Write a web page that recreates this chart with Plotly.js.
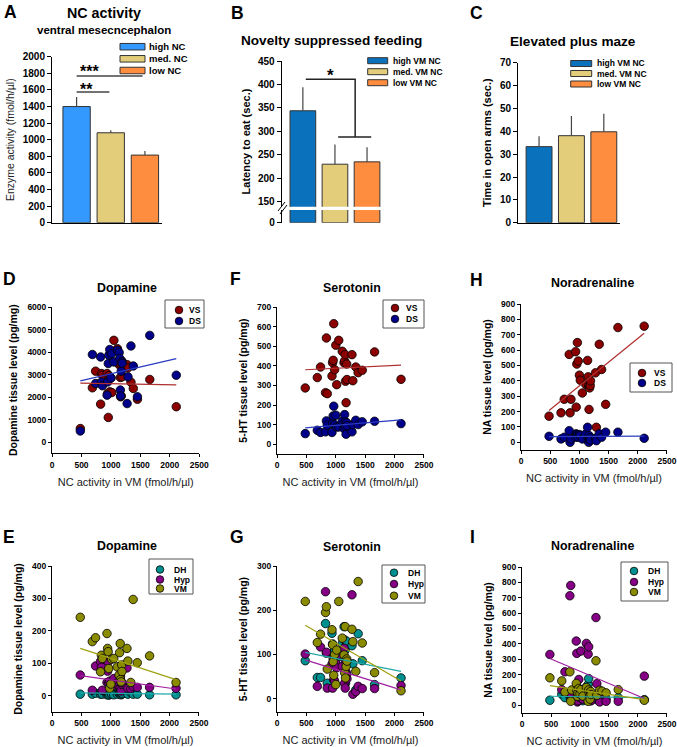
<!DOCTYPE html>
<html>
<head>
<meta charset="utf-8">
<script src="https://cdn.plot.ly/plotly-3.0.1.min.js"></script>
<style>
  html, body { margin: 0; padding: 0; background: #fff; }
  #plotContainer { width: 677px; height: 747px; }
</style>
</head>
<body>
<div id="plotContainer"></div>
<script>
// ---- bar panels (A, B, C) ----
var groupsA = ["high NC", "med. NC", "low NC"];
var groupsVM = ["high VM NC", "med. VM NC", "low VM NC"];
var colorsA = ["#3399ff", "#e3cd7b", "#ff8d3f"];
var colorsVM = ["#0a72bd", "#e3cd7b", "#ff8d3f"];

var ncMean = [1400, 1084, 815];
var ncErr = [115, 30, 50];
var nsfMean = [344, 230, 235];
var nsfErr = [50, 42, 31];
var epmMean = [33.3, 38.1, 39.8];
var epmErr = [4.6, 8.6, 7.9];

// ---- scatter panels (D-I), one value per animal ----
var ncVM = [480, 685, 740, 825, 840, 855, 935, 945, 955, 965, 980, 1000, 1015, 1050, 1110,
  1140, 1150, 1160, 1165, 1175, 1185, 1190, 1275, 1290, 1340, 1380, 1450, 1660, 2110];

var daVS = [600, 2410, 3150, 1685, 3045, 2970, 3045, 2160, 1094, 2950, 2230, 2850, 2200, 4520, 4150,
  3440, 3500, 2870, 2010, 2050, 3600, 2900, 3440, 3300, 2660, 2380, 1900, 2780, 1570];
var daDS = [490, 3890, 2600, 3780, 2670, 2500, 2085, 2670, 3490, 3860, 4110, 2850, 3930, 3560, 4080,
  3980, 3710, 2310, 2050, 3150, 3560, 3500, 1710, 2900, 4270, 3380, 2010, 4740, 2970];
var htVS = [287, 340, 394, 263, 542, 258, 348, 416, 428, 615, 380, 505, 304, 530, 474,
  416, 425, 457, 321, 212, 409, 330, 457, 324, 394, 365, 377, 471, 331];
var htDS = [54, 71, 60, 63, 119, 97, 60, 105, 144, 194, 100, 148, 88, 88, 117,
  80, 151, 114, 88, 51, 110, 95, 63, 100, 122, 100, 114, 117, 105];
var naVS = [170, 192, 280, 572, 192, 280, 590, 229, 509, 649, 529, 437, 404, 321, 376,
  533, 426, 367, 214, 354, 370, 400, 452, 98, 638, 474, 247, 747, 756];
var naDS = [39, 22, 33, 76, 0, 22, 33, 55, 50, 45, 33, 50, 44, 22, 55,
  98, 11, 0, 44, 20, 30, 15, 26, 11, 55, 33, 66, 66, 26];

var daDH = [5, 5, 8, 5, 10, 5, 3, 5, 8, 2, 5, 10, 5, 3, 5, 8, 15, 5, 10, 3, 5, 8, 30, 5, 10, 5, 5, 3, 3];
var daHyp = [64, 17, 92, 106, 88, 17, 41, 76, 105, 40, 45, 30, 28, 53, 40,
  30, 90, 25, 60, 15, 35, 40, 86, 23, 22, 28, 26, 26, 23];
var daVM = [242, 167, 179, 74, 125, 115, 192, 146, 136, 84, 23, 36, 113, 115, 89,
  64, 133, 161, 50, 43, 95, 75, 146, 107, 41, 297, 102, 123, 41];
var htDH = [86, 48, 48, 170, 103, 35, 148, 124, 103, 95, 110, 90, 100, 95, 125,
  163, 133, 110, 35, 120, 130, 79, 120, 79, 20, 147, 86, 32, 47];
var htHyp = [101, 28, 117, 242, 105, 24, 78, 24, 90, 43, 40, 80, 70, 100, 73,
  114, 35, 24, 85, 60, 55, 45, 235, 10, 16, 28, 23, 23, 30];
var htVM = [220, 127, 146, 195, 208, 67, 156, 122, 84, 53, 100, 32, 110, 220, 137,
  99, 59, 163, 47, 73, 90, 85, 157, 129, 62, 265, 126, 59, 18];
var naDH = [33, 72, 50, 59, 45, 40, 72, 55, 87, 60, 35, 50, 40, 30, 120,
  135, 174, 37, 60, 45, 30, 40, 50, 37, 60, 45, 40, 50, 37];
var naHyp = [331, 102, 218, 713, 780, 60, 418, 338, 22, 30, 168, 50, 353, 40, 403,
  333, 381, 37, 60, 80, 45, 30, 571, 141, 22, 76, 26, 26, 190];
var naVM = [179, 159, 87, 218, 26, 100, 142, 98, 59, 80, 110, 75, 102, 60, 116,
  26, 100, 80, 60, 40, 90, 70, 290, 65, 98, 92, 81, 102, 33];

var fitX = [480, 2110];
var daVSfit = [2620, 2540], daDSfit = [2720, 3710];
var htVSfit = [380, 403], htDSfit = [83, 124];
var naVSfit = [207, 710], naDSfit = [37, 40];
var daDHfit = [9, 5], daHypfit = [62, 21], daVMfit = [146, 50];
var htDHfit = [105, 62], htHypfit = [88, 20], htVMfit = [166, 40];
var naDHfit = [59, 50], naHypfit = [305, 44], naVMfit = [128, 37];

var regionNames = ["VS", "DS"];
var regionColors = ["#8b0000", "#00008b"];
var regionLines = ["#b03030", "#2a3cc0"];
var areaNames = ["DH", "Hyp", "VM"];
var areaColors = ["#009090", "#850085", "#8b8b00"];
var areaLines = ["#20a8a8", "#a020a0", "#a0a010"];

// ---- helpers ----
var W = 677, H = 747;
var FONT = "Liberation Sans, Arial, sans-serif";
function px(x) { return x / W; }
function py(y) { return 1 - y / H; }
function domX(l, r) { return [l / W, r / W]; }
function domY(top, bottom) { return [1 - bottom / H, 1 - top / H]; }

var traces = [];
var shapes = [];
var annotations = [];
var layout = {
  width: W, height: H,
  margin: { l: 0, r: 0, t: 0, b: 0 },
  paper_bgcolor: "#fff", plot_bgcolor: "rgba(0,0,0,0)",
  showlegend: false,
  font: { family: FONT, color: "#000" },
};

function text(t, x, y, size, opts) {
  var a = {
    text: t, xref: "paper", yref: "paper", x: px(x), y: py(y),
    showarrow: false, xanchor: "center", yanchor: "middle",
    font: { family: FONT, size: size, color: "#000", weight: "bold" },
  };
  return Object.assign(a, opts || {});
}

function yAxisStyle(size) {
  return {
    showline: true, linecolor: "#000", linewidth: 1,
    ticks: "outside", ticklen: 4, tickcolor: "#000", tickwidth: 1,
    tickfont: { family: FONT, size: size, weight: "bold", color: "#000" },
    showgrid: false, zeroline: false, fixedrange: true,
  };
}

function barTrace(n, cats, vals, errs, colors) {
  return {
    type: "bar", x: cats, y: vals, xaxis: "x" + n, yaxis: "y" + n,
    width: 0.8,
    marker: { color: colors, line: { color: "#333", width: 1 } },
    error_y: {
      type: "data", symmetric: false, array: errs, arrayminus: [0, 0, 0],
      color: "#444", thickness: 1.2, width: 0,
    },
    showlegend: false, hoverinfo: "x+y",
  };
}

function barLegend(names, colors, x0, x1, ys, h, tx, size) {
  names.forEach(function (name, i) {
    shapes.push({
      type: "rect", xref: "paper", yref: "paper",
      x0: px(x0), x1: px(x1), y0: py(ys[i] + h / 2), y1: py(ys[i] - h / 2),
      fillcolor: colors[i], line: { color: "#333", width: 1 },
    });
    annotations.push(text(name, tx, ys[i], size, { xanchor: "left" }));
  });
}

function markerLegend(names, colors, box, mx, ys, tx) {
  shapes.push({
    type: "rect", xref: "paper", yref: "paper",
    x0: px(box[0]), x1: px(box[2]), y0: py(box[3]), y1: py(box[1]),
    fillcolor: "#fff", line: { color: "#555", width: 1 },
  });
  names.forEach(function (name, i) {
    shapes.push({
      type: "circle", xref: "paper", yref: "paper",
      x0: px(mx - 3.8), x1: px(mx + 3.8), y0: py(ys[i] + 3.8), y1: py(ys[i] - 3.8),
      fillcolor: colors[i], line: { color: "#000", width: 0.8 },
    });
    annotations.push(text(name, tx, ys[i], 8.5, { xanchor: "left" }));
  });
}

function scatterPanel(n, xd, yd, yRange, dtick, ytitle, names, series, fits, colors, lineColors) {
  layout["xaxis" + n] = {
    domain: domX(xd[0], xd[1]), anchor: "y" + n, range: [-1, 2501], dtick: 500,
    showline: true, linecolor: "#000", linewidth: 1,
    ticks: "outside", ticklen: 3, tickcolor: "#000",
    tickfont: { family: FONT, size: 8.5, weight: "bold", color: "#000" },
    showgrid: false, zeroline: false, fixedrange: true,
    title: { text: "NC activity in VM (fmol/h/µl)", standoff: 9,
      font: { family: FONT, size: 11, color: "#222" } },
  };
  layout["yaxis" + n] = Object.assign(yAxisStyle(8.5), {
    domain: domY(yd[0], yd[1]), anchor: "x" + n, range: yRange, dtick: dtick, ticklen: 3,
    title: { text: ytitle, standoff: 7, font: { family: FONT, size: 10.5, weight: "bold" } },
  });
  series.forEach(function (ys, i) {
    traces.push({
      type: "scatter", mode: "markers", name: names[i], x: ncVM, y: ys,
      xaxis: "x" + n, yaxis: "y" + n,
      marker: { size: 8.5, color: colors[i], line: { color: "#000", width: 0.8 } },
      showlegend: false,
    });
  });
  fits.forEach(function (f, i) {
    traces.push({
      type: "scatter", mode: "lines", name: names[i] + " fit", x: fitX, y: f,
      xaxis: "x" + n, yaxis: "y" + n,
      line: { color: lineColors[i], width: 1.2 },
      showlegend: false, hoverinfo: "skip",
    });
  });
}

// ---- A: NC activity ----
traces.push(barTrace("", groupsA, ncMean, ncErr, colorsA));
layout.xaxis = {
  domain: domX(52, 162), anchor: "y", type: "category", range: [-0.72, 2.5],
  showline: true, linecolor: "#000", showticklabels: false, ticks: "",
  showgrid: false, zeroline: false, fixedrange: true,
};
layout.yaxis = Object.assign(yAxisStyle(10), {
  domain: domY(56.7, 222.7), anchor: "x", range: [0, 2001], dtick: 200,
  title: { text: "Enzyme activity (fmol/h/µl)", standoff: 6,
    font: { family: FONT, size: 10.5, color: "#222" } },
});
shapes.push({ type: "line", xref: "x", yref: "y", x0: 0, x1: 1.93, y0: 1767, y1: 1767,
  line: { color: "#444", width: 1.5 } });
shapes.push({ type: "line", xref: "x", yref: "y", x0: 0, x1: 0.96, y0: 1575, y1: 1575,
  line: { color: "#444", width: 1.5 } });
// stars: box tops/bottoms kept apart so the two labels do not collide
annotations.push({ text: "***", xref: "x", yref: "y", x: 0.06, y: 1942, xanchor: "left", yanchor: "top",
  showarrow: false, borderpad: 0,
  font: { family: FONT, size: 16, weight: "bold", color: "#000" } });
annotations.push({ text: "**", xref: "x", yref: "y", x: 0.06, y: 1720, xanchor: "left", yanchor: "top",
  showarrow: false, borderpad: 0,
  font: { family: FONT, size: 16, weight: "bold", color: "#000" } });
barLegend(groupsA, colorsA, 120, 145, [46.7, 58.8, 70.5], 6.5, 147, 9.5);
annotations.push(text("NC activity", 104, 13.3, 14.3));
annotations.push(text("ventral mesecncephalon", 104, 30, 11.5));
annotations.push(text("A", 2, 12.5, 17.5, { xanchor: "left" }));

// ---- B: Novelty suppressed feeding (broken axis) ----
traces.push(barTrace(2, groupsVM, nsfMean, nsfErr, colorsVM));
var lowB = barTrace(3, groupsVM, nsfMean, [0, 0, 0], colorsVM);
delete lowB.error_y;
traces.push(lowB);
layout.xaxis2 = {
  domain: domX(281.7, 385), anchor: "y2", type: "category", range: [-0.66, 2.56],
  showline: false, showticklabels: false, ticks: "", showgrid: false, zeroline: false, fixedrange: true,
};
layout.yaxis2 = Object.assign(yAxisStyle(10), {
  domain: domY(61, 206.7), anchor: "x2", range: [139.3, 450.2], tickvals: [150, 200, 250, 300, 350, 400, 450],
});
layout.xaxis3 = {
  domain: domX(281.7, 385), anchor: "y3", type: "category", range: [-0.66, 2.56],
  showline: false, showticklabels: false, ticks: "", showgrid: false, zeroline: false, fixedrange: true,
};
layout.yaxis3 = Object.assign(yAxisStyle(10), {
  domain: domY(210, 222.7), anchor: "x3", range: [0, 27], tickvals: [0],
});
shapes.push({ type: "line", xref: "paper", yref: "paper", x0: px(278), x1: px(285), y0: py(211), y1: py(202),
  line: { color: "#000", width: 1 } });
shapes.push({ type: "line", xref: "paper", yref: "paper", x0: px(280), x1: px(287), y0: py(214), y1: py(205),
  line: { color: "#000", width: 1 } });
shapes.push({ type: "path", xref: "x2", yref: "y2", path: "M 0.09,411.5 L 1.63,411.5 L 1.63,288",
  line: { color: "#222", width: 1.5 } });
shapes.push({ type: "line", xref: "x2", yref: "y2", x0: 1.1, x1: 2.13, y0: 288, y1: 288,
  line: { color: "#222", width: 1.5 } });
annotations.push({ text: "*", xref: "x2", yref: "y2", x: 0.85, y: 419, showarrow: false,
  font: { family: FONT, size: 17, weight: "bold", color: "#000" } });
annotations.push(text("Latency to eat (sec.)", 245.7, 141.7, 11, { textangle: -90 }));
barLegend(groupsVM, colorsVM, 367.7, 387.7, [60.7, 71.7, 82.7], 6, 391, 8.5);
annotations.push(text("Novelty suppressed feeding", 331, 40, 13.6));
annotations.push(text("B", 229, 13, 17.5, { xanchor: "left" }));

// ---- C: Elevated plus maze ----
traces.push(barTrace(4, groupsVM, epmMean, epmErr, colorsVM));
layout.xaxis4 = {
  domain: domX(518, 620), anchor: "y4", type: "category", range: [-0.65, 2.5],
  showline: true, linecolor: "#000", showticklabels: false, ticks: "",
  showgrid: false, zeroline: false, fixedrange: true,
};
layout.yaxis4 = Object.assign(yAxisStyle(10), {
  domain: domY(62.7, 222.7), anchor: "x4", range: [0, 70.05], dtick: 10,
  title: { text: "Time in open arms (sec.)", standoff: 6,
    font: { family: FONT, size: 11, weight: "bold" } },
});
barLegend(groupsVM, colorsVM, 570.7, 591.7, [63.5, 73.5, 84], 6, 595, 8.5);
annotations.push(text("Elevated plus maze", 572.8, 41.7, 13.6));
annotations.push(text("C", 468, 13, 17.5, { xanchor: "left" }));

// ---- D, F, H: striatum VS / DS ----
scatterPanel(5, [52, 199.3], [307, 453.3], [-500, 6001], 1000, "Dopamine tissue level (pg/mg)",
  regionNames, [daVS, daDS], [daVSfit, daDSfit], regionColors, regionLines);
scatterPanel(6, [277, 424], [307, 454], [-50, 700.1], 100, "5-HT tissue level (pg/mg)",
  regionNames, [htVS, htDS], [htVSfit, htDSfit], regionColors, regionLines);
scatterPanel(7, [521, 667], [304, 450], [-50, 900.1], 100, "NA tissue level (pg/mg)",
  regionNames, [naVS, naDS], [naVSfit, naDSfit], regionColors, regionLines);
markerLegend(regionNames, regionColors, [165, 300, 204, 328], 179, [310, 321], 187);
markerLegend(regionNames, regionColors, [383, 300, 424, 328], 395, [308, 319], 404);
markerLegend(regionNames, regionColors, [630, 363, 672, 392], 642, [373, 383], 652);
annotations.push(text("Dopamine", 126.7, 287.7, 12.4));
annotations.push(text("Serotonin", 351.7, 287.7, 12.4));
annotations.push(text("Noradrenaline", 592, 282.7, 12.4));
annotations.push(text("D", 1, 279, 17.5, { xanchor: "left" }));
annotations.push(text("F", 228, 279, 17.5, { xanchor: "left" }));
annotations.push(text("H", 468, 279.7, 17.5, { xanchor: "left" }));

// ---- E, G, I: DH / Hyp / VM ----
scatterPanel(8, [52, 199], [566, 712], [-50, 400.1], 100, "Dopamine tissue level (pg/mg)",
  areaNames, [daDH, daHyp, daVM], [daDHfit, daHypfit, daVMfit], areaColors, areaLines);
scatterPanel(9, [277, 424], [566, 712], [-30, 300.1], 100, "5-HT tissue level (pg/mg)",
  areaNames, [htDH, htHyp, htVM], [htDHfit, htHypfit, htVMfit], areaColors, areaLines);
scatterPanel(10, [522, 667], [567, 713], [-50, 900.1], 100, "NA tissue level (pg/mg)",
  areaNames, [naDH, naHyp, naVM], [naDHfit, naHypfit, naVMfit], areaColors, areaLines);
markerLegend(areaNames, areaColors, [149, 559, 193, 594], 160, [569.5, 579.5, 588.5], 172);
markerLegend(areaNames, areaColors, [382, 565, 425, 603], 394, [572.7, 584, 595.7], 406);
markerLegend(areaNames, areaColors, [621, 562, 668, 601], 634, [571, 582, 592], 646);
annotations.push(text("Dopamine", 126.7, 546, 12.4));
annotations.push(text("Serotonin", 351.7, 546.7, 12.4));
annotations.push(text("Noradrenaline", 592, 546, 12.4));
annotations.push(text("E", 1, 537.3, 17.5, { xanchor: "left" }));
annotations.push(text("G", 228, 536.7, 17.5, { xanchor: "left" }));
annotations.push(text("I", 468, 537, 17.5, { xanchor: "left" }));

layout.shapes = shapes;
layout.annotations = annotations;

Plotly.newPlot("plotContainer", traces, layout, { staticPlot: true, responsive: false });
</script>
</body>
</html>
